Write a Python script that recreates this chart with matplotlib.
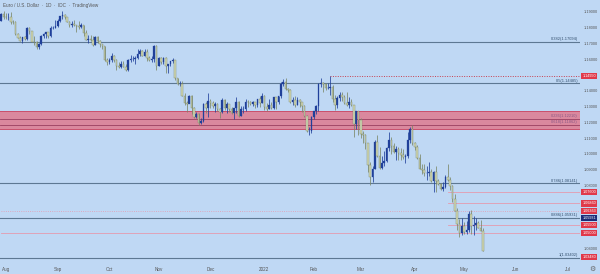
import numpy as np
import matplotlib.pyplot as plt
from matplotlib.transforms import blended_transform_factory

# Daily OHLC, EUR/USD (open, high, low, close)
jul_2021 = [
    [1.1845, 1.1893, 1.1840, 1.1888], [1.1888, 1.1909, 1.1858, 1.1870],
]
aug_2021 = [
    [1.1870, 1.1893, 1.1858, 1.1868], [1.1868, 1.1891, 1.1846, 1.1868],
    [1.1868, 1.1900, 1.1823, 1.1835], [1.1835, 1.1850, 1.1823, 1.1833],
    [1.1833, 1.1840, 1.1755, 1.1761], [1.1761, 1.1765, 1.1736, 1.1737],
    [1.1737, 1.1745, 1.1716, 1.1718], [1.1718, 1.1741, 1.1706, 1.1739],
    [1.1739, 1.1750, 1.1724, 1.1730], [1.1730, 1.1804, 1.1723, 1.1796],
    [1.1796, 1.1803, 1.1759, 1.1779], [1.1779, 1.1782, 1.1710, 1.1712],
    [1.1712, 1.1746, 1.1691, 1.1709], [1.1709, 1.1715, 1.1666, 1.1676],
    [1.1676, 1.1702, 1.1664, 1.1697], [1.1697, 1.1753, 1.1693, 1.1748],
    [1.1748, 1.1767, 1.1734, 1.1758], [1.1758, 1.1773, 1.1735, 1.1772],
    [1.1772, 1.1774, 1.1735, 1.1750], [1.1750, 1.1810, 1.1742, 1.1795],
    [1.1795, 1.1810, 1.1793, 1.1799], [1.1799, 1.1846, 1.1799, 1.1808],
]
sep_2021 = [
    [1.1808, 1.1857, 1.1802, 1.1843], [1.1843, 1.1873, 1.1836, 1.1875],
    [1.1875, 1.1909, 1.1858, 1.1880], [1.1880, 1.1884, 1.1858, 1.1869],
    [1.1869, 1.1870, 1.1834, 1.1838], [1.1838, 1.1845, 1.1802, 1.1818],
    [1.1818, 1.1844, 1.1806, 1.1822], [1.1822, 1.1846, 1.1809, 1.1814],
    [1.1814, 1.1815, 1.1770, 1.1810], [1.1810, 1.1845, 1.1794, 1.1805],
    [1.1805, 1.1832, 1.1800, 1.1818], [1.1818, 1.1820, 1.1746, 1.1765],
    [1.1765, 1.1785, 1.1722, 1.1725], [1.1725, 1.1754, 1.1701, 1.1726],
    [1.1726, 1.1753, 1.1716, 1.1725], [1.1725, 1.1746, 1.1684, 1.1690],
    [1.1690, 1.1750, 1.1688, 1.1740], [1.1740, 1.1750, 1.1700, 1.1718],
    [1.1718, 1.1723, 1.1680, 1.1695], [1.1695, 1.1699, 1.1668, 1.1681],
    [1.1681, 1.1683, 1.1590, 1.1597], [1.1597, 1.1607, 1.1563, 1.1580],
]
oct_2021 = [
    [1.1580, 1.1605, 1.1570, 1.1595], [1.1595, 1.1640, 1.1580, 1.1620],
    [1.1620, 1.1625, 1.1580, 1.1597], [1.1597, 1.1600, 1.1529, 1.1555],
    [1.1555, 1.1582, 1.1545, 1.1553], [1.1553, 1.1590, 1.1545, 1.1572],
    [1.1572, 1.1590, 1.1550, 1.1553], [1.1553, 1.1570, 1.1524, 1.1529],
    [1.1529, 1.1600, 1.1525, 1.1595], [1.1595, 1.1624, 1.1585, 1.1599],
    [1.1599, 1.1623, 1.1591, 1.1600], [1.1600, 1.1618, 1.1572, 1.1608],
    [1.1608, 1.1668, 1.1603, 1.1634], [1.1634, 1.1666, 1.1622, 1.1654],
    [1.1654, 1.1660, 1.1618, 1.1622], [1.1622, 1.1668, 1.1620, 1.1645],
    [1.1645, 1.1667, 1.1589, 1.1607], [1.1607, 1.1623, 1.1586, 1.1598],
    [1.1598, 1.1620, 1.1585, 1.1604], [1.1604, 1.1692, 1.1580, 1.1682],
    [1.1682, 1.1690, 1.1535, 1.1558],
]
nov_2021 = [
    [1.1558, 1.1616, 1.1560, 1.1607], [1.1607, 1.1617, 1.1570, 1.1580],
    [1.1580, 1.1616, 1.1571, 1.1611], [1.1611, 1.1615, 1.1513, 1.1555],
    [1.1555, 1.1572, 1.1512, 1.1568], [1.1568, 1.1592, 1.1557, 1.1588],
    [1.1588, 1.1608, 1.1576, 1.1595], [1.1595, 1.1597, 1.1467, 1.1480],
    [1.1480, 1.1484, 1.1437, 1.1445], [1.1445, 1.1464, 1.1432, 1.1445],
    [1.1445, 1.1464, 1.1366, 1.1368], [1.1368, 1.1386, 1.1308, 1.1320],
    [1.1320, 1.1337, 1.1264, 1.1318], [1.1318, 1.1374, 1.1320, 1.1370],
    [1.1370, 1.1375, 1.1250, 1.1289], [1.1289, 1.1300, 1.1226, 1.1235],
    [1.1235, 1.1265, 1.1225, 1.1253], [1.1253, 1.1262, 1.1186, 1.1198],
    [1.1198, 1.1229, 1.1190, 1.1208], [1.1208, 1.1325, 1.1204, 1.1318],
    [1.1318, 1.1330, 1.1258, 1.1293], [1.1293, 1.1383, 1.1235, 1.1338],
]
dec_2021 = [
    [1.1338, 1.1351, 1.1290, 1.1320], [1.1320, 1.1334, 1.1290, 1.1302],
    [1.1302, 1.1332, 1.1268, 1.1314], [1.1314, 1.1320, 1.1274, 1.1286],
    [1.1286, 1.1290, 1.1227, 1.1266], [1.1266, 1.1355, 1.1260, 1.1343],
    [1.1343, 1.1345, 1.1281, 1.1290], [1.1290, 1.1326, 1.1262, 1.1316],
    [1.1316, 1.1319, 1.1263, 1.1285], [1.1285, 1.1299, 1.1252, 1.1257],
    [1.1257, 1.1290, 1.1222, 1.1288], [1.1288, 1.1360, 1.1260, 1.1330],
    [1.1330, 1.1333, 1.1235, 1.1240], [1.1240, 1.1306, 1.1238, 1.1282],
    [1.1282, 1.1303, 1.1260, 1.1285], [1.1285, 1.1346, 1.1270, 1.1329],
    [1.1329, 1.1342, 1.1297, 1.1328], [1.1328, 1.1335, 1.1310, 1.1318],
    [1.1318, 1.1334, 1.1305, 1.1326], [1.1326, 1.1332, 1.1290, 1.1311],
    [1.1311, 1.1350, 1.1300, 1.1349], [1.1349, 1.1367, 1.1300, 1.1323],
    [1.1323, 1.1386, 1.1323, 1.1370],
]
jan_2022 = [
    [1.1370, 1.1375, 1.1280, 1.1297], [1.1297, 1.1320, 1.1272, 1.1286],
    [1.1286, 1.1347, 1.1285, 1.1313], [1.1313, 1.1330, 1.1284, 1.1294],
    [1.1294, 1.1363, 1.1287, 1.1359], [1.1359, 1.1360, 1.1285, 1.1326],
    [1.1326, 1.1369, 1.1315, 1.1367], [1.1367, 1.1453, 1.1355, 1.1441],
    [1.1441, 1.1472, 1.1432, 1.1456], [1.1456, 1.1482, 1.1404, 1.1412],
    [1.1412, 1.1420, 1.1393, 1.1407], [1.1407, 1.1410, 1.1325, 1.1326],
    [1.1326, 1.1359, 1.1311, 1.1344], [1.1344, 1.1369, 1.1300, 1.1311],
    [1.1311, 1.1363, 1.1310, 1.1344], [1.1344, 1.1346, 1.1300, 1.1326],
    [1.1326, 1.1327, 1.1264, 1.1302], [1.1302, 1.1310, 1.1235, 1.1243],
    [1.1243, 1.1247, 1.1136, 1.1143], [1.1143, 1.1168, 1.1121, 1.1146],
    [1.1146, 1.1239, 1.1133, 1.1234],
]
feb_2022 = [
    [1.1234, 1.1275, 1.1221, 1.1271], [1.1271, 1.1309, 1.1254, 1.1304],
    [1.1304, 1.1451, 1.1270, 1.1440], [1.1440, 1.1483, 1.1423, 1.1450],
    [1.1450, 1.1457, 1.1395, 1.1440], [1.1440, 1.1448, 1.1403, 1.1416],
    [1.1416, 1.1449, 1.1413, 1.1420], [1.1420, 1.1495, 1.1374, 1.1427],
    [1.1427, 1.1435, 1.1331, 1.1349], [1.1349, 1.1374, 1.1280, 1.1307],
    [1.1307, 1.1368, 1.1292, 1.1357], [1.1357, 1.1395, 1.1338, 1.1374],
    [1.1374, 1.1394, 1.1334, 1.1362], [1.1362, 1.1371, 1.1316, 1.1322],
    [1.1322, 1.1395, 1.1305, 1.1308], [1.1308, 1.1359, 1.1288, 1.1330],
    [1.1330, 1.1345, 1.1302, 1.1308], [1.1308, 1.1310, 1.1106, 1.1191],
    [1.1191, 1.1274, 1.1160, 1.1270], [1.1270, 1.1275, 1.1121, 1.1218],
]
mar_2022 = [
    [1.1218, 1.1225, 1.1100, 1.1125], [1.1125, 1.1148, 1.1069, 1.1119],
    [1.1119, 1.1126, 1.1032, 1.1066], [1.1066, 1.1068, 1.0884, 1.0930],
    [1.0930, 1.0946, 1.0806, 1.0856], [1.0856, 1.0926, 1.0822, 1.0906],
    [1.0906, 1.1087, 1.0903, 1.1073], [1.1073, 1.1121, 1.0980, 1.0988],
    [1.0988, 1.1042, 1.0906, 1.0911], [1.0911, 1.0985, 1.0904, 1.0941],
    [1.0941, 1.1017, 1.0924, 1.0955], [1.0955, 1.1043, 1.0950, 1.1035],
    [1.1035, 1.1137, 1.1020, 1.1090], [1.1090, 1.1105, 1.1002, 1.1048],
    [1.1048, 1.1069, 1.1008, 1.1015], [1.1015, 1.1047, 1.0961, 1.1030],
    [1.1030, 1.1045, 1.0964, 1.1003], [1.1003, 1.1036, 1.0962, 1.0995],
    [1.0995, 1.1034, 1.0966, 1.0983], [1.0983, 1.1000, 1.0945, 1.0985],
    [1.0985, 1.1137, 1.0975, 1.1088], [1.1088, 1.1170, 1.1068, 1.1160],
    [1.1160, 1.1185, 1.1059, 1.1067],
]
apr_2022 = [
    [1.1067, 1.1077, 1.1027, 1.1046], [1.1046, 1.1054, 1.0969, 1.0971],
    [1.0971, 1.0999, 1.0903, 1.0905], [1.0905, 1.0937, 1.0874, 1.0901],
    [1.0901, 1.0939, 1.0860, 1.0877], [1.0877, 1.0922, 1.0836, 1.0877],
    [1.0877, 1.0951, 1.0860, 1.0885], [1.0885, 1.0906, 1.0822, 1.0827],
    [1.0827, 1.0890, 1.0757, 1.0888], [1.0888, 1.0923, 1.0758, 1.0827],
    [1.0827, 1.0840, 1.0800, 1.0808], [1.0808, 1.0814, 1.0770, 1.0780],
    [1.0780, 1.0819, 1.0762, 1.0788], [1.0788, 1.0865, 1.0782, 1.0855],
    [1.0855, 1.0936, 1.0830, 1.0837], [1.0837, 1.0852, 1.0772, 1.0798],
    [1.0798, 1.0800, 1.0696, 1.0716], [1.0716, 1.0747, 1.0635, 1.0639],
    [1.0639, 1.0656, 1.0515, 1.0557], [1.0557, 1.0586, 1.0471, 1.0498],
    [1.0498, 1.0594, 1.0487, 1.0544],
]
may_2022 = [
    [1.0544, 1.0571, 1.0490, 1.0506], [1.0506, 1.0572, 1.0492, 1.0520],
    [1.0520, 1.0641, 1.0505, 1.0621], [1.0621, 1.0642, 1.0492, 1.0541],
    [1.0541, 1.0605, 1.0483, 1.0549], [1.0549, 1.0594, 1.0520, 1.0560],
    [1.0560, 1.0572, 1.0531, 1.0531], [1.0531, 1.0578, 1.0513, 1.0514],
    [1.0514, 1.0530, 1.0385, 1.0385],
]

# time axis (bar index of first trading day of each month)
month_names = ["Aug", "Sep", "Oct", "Nov", "Dec", "2022", "Feb", "Mar", "Apr", "May", "Jun", "Jul"]
month_bars = [2, 24, 46, 67, 89, 112, 133, 153, 176, 197, 219, 241]

# price scale
price_ticks = [1.04, 1.05, 1.06, 1.07, 1.08, 1.09, 1.10, 1.11, 1.12, 1.13, 1.14, 1.15, 1.16, 1.17, 1.18, 1.19]

# fibonacci retracement lines (label, price)
fib_levels = [("0.382(1.17094)", 1.17094), ("0.5(1.14485)", 1.14485),
              ("0.786(1.08141)", 1.08141), ("0.886(1.05931)", 1.05931),
              ("1(1.03402)", 1.03402)]
# red zone
zone_low, zone_high = 1.1160, 1.1272
zone_lines = [("0.236(1.12210)", 1.12210), ("0.618(1.11862)", 1.11862)]
# thin red support lines (price, first bar, style)
red_lines = [(1.0760, 190, "-"), (1.0686, 190, "-"), (1.06363, 0, ":"),
             (1.0550, 190, "-"), (1.0500, 0, "-")]
feb_high, feb_high_bar = 1.14950, 140
red_tags = ["1.14950", "1.07600", "1.06860", "1.06363", "1.05500", "1.05000", "1.03480"]
red_tag_prices = [1.14950, 1.07600, 1.06860, 1.06363, 1.05500, 1.05000, 1.03480]
blue_tag, blue_tag_price = "1.05931", 1.05931

BG = "#bfd8f4"
UP = "#20409a"
DOWN = "#d3d9b6"
DOWN_EDGE = "#7c8868"
FIB = "#5d7893"
RED = "#e0394a"

ohlc = np.array(jul_2021 + aug_2021 + sep_2021 + oct_2021 + nov_2021 + dec_2021
                + jan_2022 + feb_2022 + mar_2022 + apr_2022 + may_2022)
o, h, l, c = ohlc.T
x = np.arange(len(ohlc))
up = c >= o

plt.rcParams["font.family"] = ["Liberation Sans", "DejaVu Sans"]
fig = plt.figure(figsize=(6, 2.74), dpi=100)
fig.patch.set_facecolor(BG)
ax = fig.add_axes([0, 11 / 274, 580 / 600, 263 / 274])
ax.set_facecolor(BG)

ax.set_xlim(-0.55, 246.3)
ax.set_ylim(1.03085, 1.19756)

# zone and levels
ax.axhspan(zone_low, zone_high, color="#de7f95", alpha=0.9, lw=0, zorder=1)
ax.axhline(zone_low, color="#c9506c", lw=0.7, zorder=1.1)
ax.axhline(zone_high, color="#c9506c", lw=0.7, zorder=1.1)
for lab, p in zone_lines:
    ax.axhline(p, color="#9a4060", lw=0.6, zorder=1.2)
    ax.text(245.5, p + 0.0004, lab, fontsize=2.8, color="#8a5a85", ha="right", va="bottom", zorder=5)

for lab, p in fib_levels:
    ax.axhline(p, color=FIB, lw=0.8, zorder=1.5)
    ax.text(245.5, p + 0.0004, lab, fontsize=2.9, color="#34506e", ha="right", va="bottom", zorder=5)

for p, start, ls in red_lines:
    ax.plot([start, 246.3], [p, p], color="#e59aae", lw=0.6, ls=ls, zorder=1.4)
ax.plot([feb_high_bar, 246.3], [feb_high, feb_high], color="#c8404f", lw=0.7, ls=(0, (1, 1.5)), zorder=1.6)

# candles
ax.vlines(x[up], l[up], h[up], color=UP, lw=0.55, zorder=3)
ax.vlines(x[~up], l[~up], h[~up], color=DOWN_EDGE, lw=0.55, zorder=3)
body = np.maximum(np.abs(c - o), 0.00012)
ax.bar(x[up], body[up], bottom=np.minimum(o, c)[up], width=0.7, color=UP,
       edgecolor=UP, linewidth=0.2, zorder=4)
ax.bar(x[~up], body[~up], bottom=np.minimum(o, c)[~up], width=0.7, color=DOWN,
       edgecolor=DOWN_EDGE, linewidth=0.3, zorder=4)

# axes look
for s in ax.spines.values():
    s.set_visible(False)
ax.set_xticks(month_bars, month_names)
ax.tick_params(axis="x", length=0, pad=3, labelsize=3.3, labelcolor="#555555")
ax.yaxis.tick_right()
# price labels covered by a tag box are left out
tag_prices = red_tag_prices + [blue_tag_price]
shown = [p for p in price_ticks if min(abs(p - t) for t in tag_prices) > 0.0035]
ax.set_yticks(shown, [f"{p:.5f}" for p in shown])
ax.tick_params(axis="y", length=0, pad=3, labelsize=2.8, labelcolor="#555555")

tr = blended_transform_factory(ax.transAxes, ax.transData)
for lab, p in zip(red_tags, red_tag_prices):
    ax.text(1.004, p, lab, transform=tr, fontsize=2.7, color="white", ha="left", va="center",
            bbox=dict(boxstyle="square,pad=0.3", fc=RED, ec="none"), clip_on=False, zorder=6)
ax.text(1.004, blue_tag_price, blue_tag, transform=tr, fontsize=2.7, color="white", ha="left",
        va="center", bbox=dict(boxstyle="square,pad=0.3", fc="#1b2c78", ec="none"),
        clip_on=False, zorder=6)

fig.text(3 / 600, 1 - 5 / 274, "Euro / U.S. Dollar  ·  1D  ·  IDC  ·  TradingView",
         fontsize=3.3, color="#555555", va="center")
fig.text(592 / 600, 1 - 269 / 274, "⚙", fontsize=5, color="#666666", ha="center", va="center",
         family="DejaVu Sans")

fig.savefig("out.png", dpi=100, facecolor=BG)
